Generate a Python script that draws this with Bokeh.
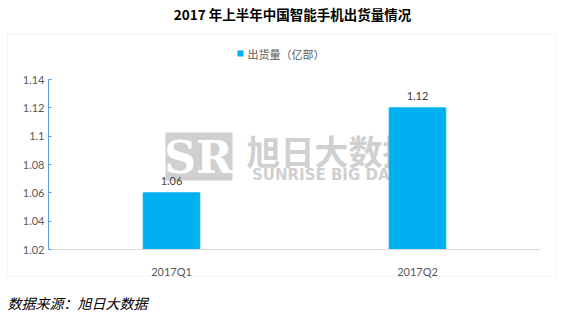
from bokeh.plotting import figure
from bokeh.models import (Range1d, FixedTicker, Label, BoxAnnotation,
                          ColumnDataSource, LabelSet, LinearAxis)
from bokeh.core.properties import value
from bokeh.embed import file_html
from bokeh.resources import INLINE

categories = ["2017Q1", "2017Q2"]
shipments = [1.06, 1.12]
value_labels = ["1.06", "1.12"]
y_ticks = [1.02, 1.04, 1.06, 1.08, 1.10, 1.12, 1.14]
y_tick_labels = ["1.02", "1.04", "1.06", "1.08", "1.1", "1.12", "1.14"]
title_text = "2017 年上半年中国智能手机出货量情况"
legend_text = "出货量（亿部）"
source_text = "数据来源：旭日大数据"
watermark_cn = "旭日大数据"
watermark_en = "SUNRISE BIG DATA"

W, H = 578, 318
CJK = "Noto Sans CJK SC"
NUM = "Lato"
BAR = "#00B0F0"
GRAY_TXT = "#595959"
WM = "#D0D0D0"

# plot-area geometry (page pixels)
PL, PR, PT, PB = 48, 540, 79, 249
ymin, ymax = y_ticks[0], y_ticks[-1]
n = len(categories)
xpx = (PR - PL) / n                 # pixels per category
ypx = (PB - PT) / (ymax - ymin)     # pixels per unit

x_pos = [i + 0.5 for i in range(n)]


def sx(x):
    return x


def sy(y):
    return H - y


p = figure(width=W, height=H,
           x_range=Range1d(-PL / xpx, n + (W - PR) / xpx),
           y_range=Range1d(ymin - (H - PB) / ypx, ymax + PT / ypx),
           output_backend="svg", toolbar_location=None,
           min_border=0, x_axis_location=None, y_axis_location=None)
p.outline_line_color = None
p.grid.grid_line_color = None
p.background_fill_color = "white"
p.border_fill_color = "white"

# outer frame box
p.add_layout(BoxAnnotation(left=sx(7), right=sx(555), top=sy(34), bottom=sy(276),
                           left_units="screen", right_units="screen",
                           top_units="screen", bottom_units="screen",
                           fill_color=None, line_color="#D9D9D9", line_width=1,
                           level="underlay"))

# watermark (behind bars)
p.add_layout(BoxAnnotation(left=sx(165), right=sx(232), top=sy(132), bottom=sy(180),
                           left_units="screen", right_units="screen",
                           top_units="screen", bottom_units="screen",
                           fill_color=WM, fill_alpha=1, line_color=None, level="underlay"))
p.add_layout(Label(x=sx(198), y=sy(157), x_units="screen", y_units="screen", text="SR",
                   text_align="center", text_baseline="middle", text_font="DejaVu Serif",
                   text_font_size="44px", text_font_style="bold", text_color="white",
                   level="underlay"))
p.add_layout(Label(x=sx(331), y=sy(150), x_units="screen", y_units="screen", text=watermark_cn,
                   text_align="center", text_baseline="middle", text_font=CJK,
                   text_font_size="34px", text_font_style="bold", text_color=WM,
                   level="underlay"))
p.add_layout(Label(x=sx(330), y=sy(174), x_units="screen", y_units="screen", text=watermark_en,
                   text_align="center", text_baseline="middle", text_font="DejaVu Sans",
                   text_font_size="15px", text_font_style="bold", text_color=WM,
                   level="underlay"))

src = ColumnDataSource(dict(x=x_pos, cat=categories, val=shipments, lab=value_labels))
p.vbar(x="x", top="val", bottom=ymin, width=0.23, color=BAR, source=src)
p.add_layout(LabelSet(x="x", y="val", text="lab", source=src, text_align="center",
                      text_baseline="bottom", y_offset=8, text_font=value(NUM),
                      text_font_size=value("11px"), text_color="#404040"))

# axes placed at fixed data locations
ya = LinearAxis(fixed_location=0, bounds=(ymin, ymax))
ya.ticker = FixedTicker(ticks=y_ticks)
ya.major_label_overrides = {t: l for t, l in zip(y_ticks, y_tick_labels)}
ya.axis_line_color = "#5B9BD5"
ya.major_tick_line_color = "#5B9BD5"
ya.major_tick_in = 3
ya.major_tick_out = 0
ya.minor_tick_line_color = None
ya.major_label_standoff = 4
ya.major_label_text_font = NUM
ya.major_label_text_font_size = "11px"
ya.major_label_text_color = GRAY_TXT
p.add_layout(ya, "left")

xa = LinearAxis(fixed_location=ymin, bounds=(0, n))
xa.ticker = FixedTicker(ticks=x_pos)
xa.major_label_overrides = {x: c for x, c in zip(x_pos, categories)}
xa.axis_line_color = "#D9D9D9"
xa.major_tick_line_color = None
xa.minor_tick_line_color = None
xa.major_label_standoff = 9
xa.major_label_text_font = NUM
xa.major_label_text_font_size = "11px"
xa.major_label_text_color = GRAY_TXT
p.add_layout(xa, "below")

# title
p.add_layout(Label(x=sx(292), y=sy(13), x_units="screen", y_units="screen", text=title_text,
                   text_align="center", text_baseline="middle", text_font=CJK,
                   text_font_size="13.5px", text_font_style="bold", text_color="#000000"))
# legend
p.add_layout(BoxAnnotation(left=sx(237), right=sx(243), top=sy(50), bottom=sy(56),
                           left_units="screen", right_units="screen",
                           top_units="screen", bottom_units="screen",
                           fill_color=BAR, fill_alpha=1, line_color=None))
p.add_layout(Label(x=sx(247), y=sy(53), x_units="screen", y_units="screen", text=legend_text,
                   text_align="left", text_baseline="middle", text_font=CJK,
                   text_font_size="11px", text_color=GRAY_TXT))
# source note
p.add_layout(Label(x=sx(7), y=sy(302), x_units="screen", y_units="screen", text=source_text,
                   text_align="left", text_baseline="middle", text_font=CJK,
                   text_font_size="14px", text_font_style="italic", text_color="#000000"))

with open("out.html", "w") as f:
    f.write(file_html(p, INLINE))
